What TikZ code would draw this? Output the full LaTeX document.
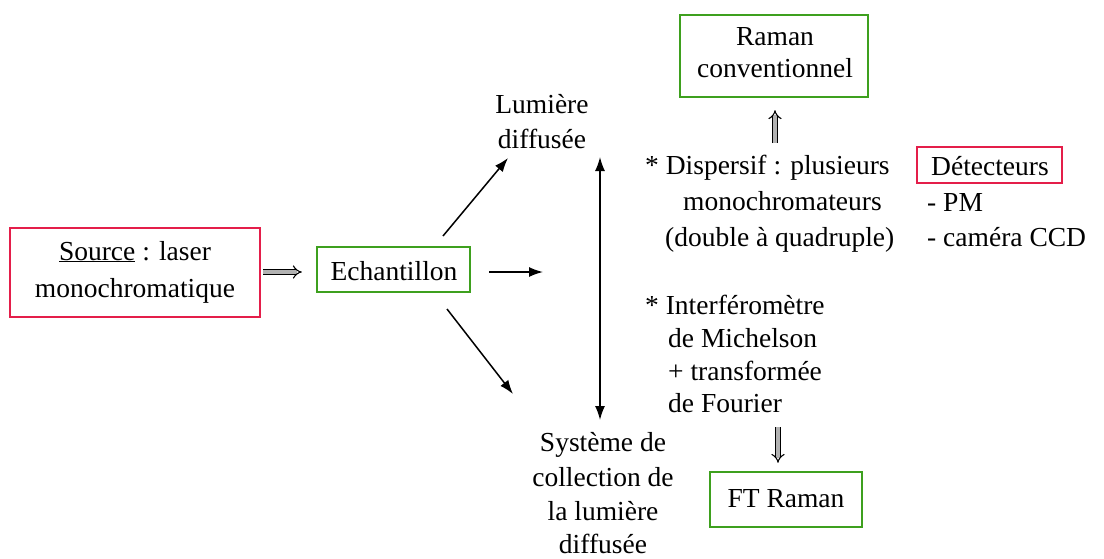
\documentclass[tikz,border=0pt]{standalone}
\usepackage{fontspec}
\setmainfont{Liberation Serif}
\usetikzlibrary{arrows.meta}
\definecolor{boxred}{RGB}{228,30,74}
\definecolor{boxgreen}{RGB}{62,160,30}
\tikzset{
  txt/.style={font=\fontsize{27.5}{35}\selectfont, inner sep=0pt, anchor=base},
  ltxt/.style={txt, anchor=base west},
  redbox/.style={draw=boxred, line width=2.4pt, inner sep=0pt},
  greenbox/.style={draw=boxgreen, line width=2.4pt, inner sep=0pt},
  arr/.style={line width=1.5pt, -{Latex[length=14pt,width=10pt]}},
  biarr/.style={line width=1.5pt, {Latex[length=14pt,width=10pt]}-{Latex[length=14pt,width=10pt]}},
  dblarr/.style={double=gray!60, double distance=3.5pt, line width=1.1pt, -{Implies}},
}
\begin{document}
\begin{tikzpicture}[x=1pt, y=-1pt]
\useasboundingbox (0,0) rectangle (1104,558);

% framed boxes
\node[redbox, minimum width=250pt, minimum height=89pt] (srcbox) at (135,272.5) {};
\node[greenbox, minimum width=153pt, minimum height=45pt] (echbox) at (393.5,269.5) {};
\node[greenbox, minimum width=188pt, minimum height=82pt] (ramanbox) at (774,56) {};
\node[redbox, minimum width=145pt, minimum height=36pt] (detbox) at (989.5,165) {};
\node[greenbox, minimum width=152pt, minimum height=55pt] (ftbox) at (786,499.5) {};

% texts inside the boxes
\node[txt] (src1) at (135,260) {\underline{Source} : laser};
\node[txt] (src2) at (135,297) {monochromatique};
\node[txt] (ech) at (394,280) {Echantillon};
\node[txt] (ram1) at (775,45) {Raman};
\node[txt] (ram2) at (775,77) {conventionnel};
\node[txt] (det) at (990,175) {Détecteurs};
\node[txt] (ft) at (786,507) {FT Raman};

% free texts
\node[txt] (lum1) at (542,113) {Lumière};
\node[txt] (lum2) at (542,148) {diffusée};
\node[txt] (sys1) at (603,451) {Système de};
\node[txt] (sys2) at (603,486) {collection de};
\node[txt] (sys3) at (603,520) {la lumière};
\node[txt] (sys4) at (603,553) {diffusée};

\node[ltxt] (dsp1) at (645,174) {* Dispersif : plusieurs};
\node[ltxt] (dsp2) at (683,210) {monochromateurs};
\node[ltxt] (dsp3) at (665,246) {(double à quadruple)};

\node[ltxt] (pm) at (927,211) {- PM};
\node[ltxt] (ccd) at (927,246) {- caméra CCD};

\node[ltxt] (itf1) at (645,314) {* Interféromètre};
\node[ltxt] (itf2) at (668,347) {de Michelson};
\node[ltxt] (itf3) at (668,380) {+ transformée};
\node[ltxt] (itf4) at (668,412) {de Fourier};

% connector end points
\coordinate (upS) at (443,236);
\coordinate (upE) at (508,158);
\coordinate (midE) at (543,272);
\coordinate (dnS) at (447,309);
\coordinate (dnE) at (513,394);
\coordinate (vtop) at (600,157);
\coordinate (vbot) at (600,420);
\coordinate (dspup) at (775,143);
\coordinate (itfdn) at (778,427);

% connectors
\draw[dblarr, shorten <=2pt, shorten >=14pt] (srcbox.east |- 0,272) -- (echbox.west |- 0,272);
\draw[arr] (upS) -- (upE);
\draw[arr, shorten <=18pt] (echbox.east |- midE) -- (midE);
\draw[arr] (dnS) -- (dnE);
\draw[biarr] (vtop) -- (vbot);
\draw[dblarr, shorten >=12pt] (dspup) -- (dspup |- ramanbox.south);
\draw[dblarr, shorten >=8pt] (itfdn) -- (itfdn |- ftbox.north);
\end{tikzpicture}
\end{document}
